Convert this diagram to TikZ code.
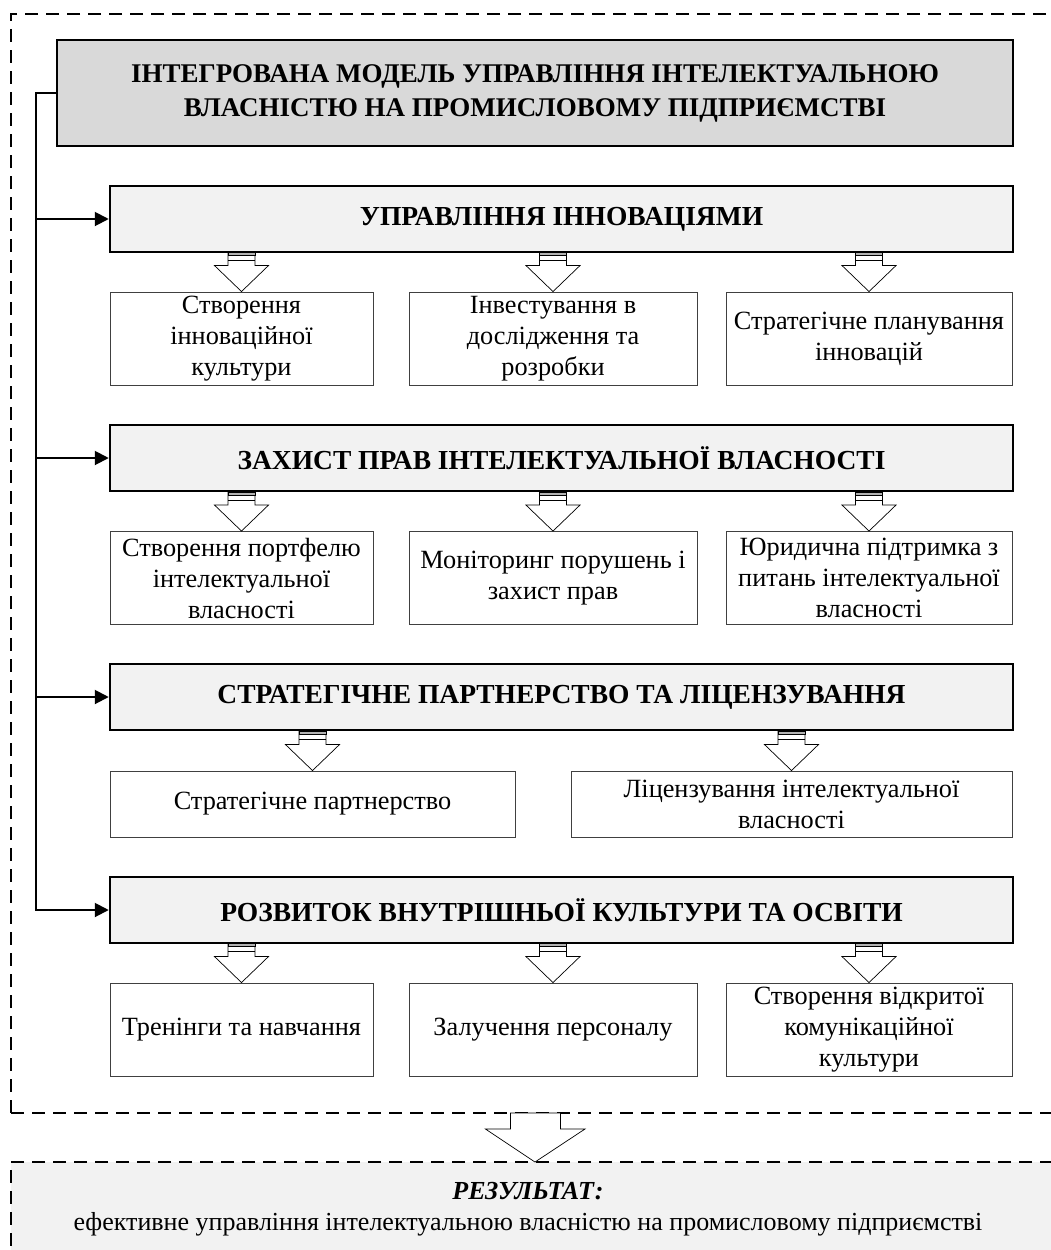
\documentclass[tikz,border=0pt]{standalone}
\usepackage{fontspec}
\setmainfont{Liberation Serif}
\usetikzlibrary{arrows.meta}

\definecolor{titlegray}{HTML}{D9D9D9}
\definecolor{headgray}{HTML}{F2F2F2}

% hollow arrow, tip at the north side of #1
\newcommand{\SmallArrow}[1]{%
  \begin{scope}[shift={(#1.north)}]
    \draw[line width=0.7pt, fill=white] (0,0) -- (-27,-26) -- (-13.5,-26) -- (-13.5,-39) -- (13.5,-39) -- (13.5,-26) -- (27,-26) -- cycle;
    \draw[line width=0.7pt, fill=gray!60] (-13.5,-39) rectangle (13.5,-36);
    \draw[line width=0.7pt] (-13.5,-31) -- (13.5,-31);
  \end{scope}}

\begin{document}
\begin{tikzpicture}[x=1pt, y=-1pt]
\tikzset{titlebox/.style = {draw, line width=2.5pt, fill=titlegray, minimum width=956, minimum height=106, align=center, font=\fontsize{27}{34}\selectfont\bfseries}}
\tikzset{headbox/.style = {draw, line width=2.5pt, fill=headgray, minimum width=903, minimum height=66, font=\fontsize{27.5}{32}\selectfont\bfseries}}
\tikzset{subbox/.style = {draw=black!75, line width=0.9pt, fill=white, inner sep=0pt, minimum height=93, align=center, font=\fontsize{26.3}{31}\selectfont}}
\tikzset{areabox/.style = {draw, line width=1.3pt, dash pattern=on 13pt off 8pt}}
\tikzset{busline/.style = {line width=2pt, -{Triangle[length=14pt, width=14pt]}}}
\useasboundingbox (0,0) rectangle (1050,1250);

  \node[areabox, minimum width=1060, minimum height=1099] (model area) at (541,563.5) {};
  \node[areabox, fill=headgray, minimum width=1060, minimum height=98] (result) at (541,1211) {};
  \node[align=center, font=\fontsize{26}{31}\selectfont] (resulttext) at (528,1209)
    {\textbf{\textit{РЕЗУЛЬТАТ:}}\\ефективне управління інтелектуальною власністю на промисловому підприємстві};

  \node[titlebox] (model) at (535,93) {ІНТЕГРОВАНА МОДЕЛЬ УПРАВЛІННЯ ІНТЕЛЕКТУАЛЬНОЮ\\ВЛАСНІСТЮ НА ПРОМИСЛОВОМУ ПІДПРИЄМСТВІ};

  \node[headbox] (innov) at (561.5,219) {УПРАВЛІННЯ ІННОВАЦІЯМИ};
  \node[subbox, minimum width=263] (innovA) at (241.5,338.5) {Створення\\інноваційної\\культури};
  \node[subbox, minimum width=288] (innovB) at (553,338.5) {Інвестування в\\дослідження та\\розробки};
  \node[subbox, minimum width=286] (innovC) at (869,338.5) {Стратегічне планування\\інновацій};

  \node[headbox] (protect) at (561.5,458) {ЗАХИСТ ПРАВ ІНТЕЛЕКТУАЛЬНОЇ ВЛАСНОСТІ};
  \node[subbox, minimum width=263] (protectA) at (241.5,578) {Створення портфелю\\інтелектуальної\\власності};
  \node[subbox, minimum width=288] (protectB) at (553,578) {Моніторинг порушень і\\захист прав};
  \node[subbox, minimum width=286] (protectC) at (869,578) {Юридична підтримка з\\питань інтелектуальної\\власності};

  \node[headbox] (partner) at (561.5,697) {СТРАТЕГІЧНЕ ПАРТНЕРСТВО ТА ЛІЦЕНЗУВАННЯ};
  \node[subbox, minimum width=405, minimum height=66] (partnerA) at (312.5,804) {Стратегічне партнерство};
  \node[subbox, minimum width=441, minimum height=66] (partnerB) at (791.5,804) {Ліцензування інтелектуальної\\власності};

  \node[headbox] (culture) at (561.5,910) {РОЗВИТОК ВНУТРІШНЬОЇ КУЛЬТУРИ ТА ОСВІТИ};
  \node[subbox, minimum width=263] (cultureA) at (241.5,1029.5) {Тренінги та навчання};
  \node[subbox, minimum width=288] (cultureB) at (553,1029.5) {Залучення персоналу};
  \node[subbox, minimum width=286] (cultureC) at (869,1029.5) {Створення відкритої\\комунікаційної\\культури};

  \draw[busline] (model.west) -- ++(-20,0) coordinate (bus) |- (culture.west);
  \foreach \h in {innov, protect, partner}
    \draw[busline] (bus |- \h.west) -- (\h.west);

  \foreach \b in {innovA, innovB, innovC, protectA, protectB, protectC, partnerA, partnerB, cultureA, cultureB, cultureC}
    \SmallArrow{\b};

  % big arrow to the result
  \coordinate (restip) at (535,1162);
  \draw[line width=0.7pt, fill=white] (restip) -- ++(-49.5,-33) -- ++(25,0) -- ++(0,-16) -- ++(50,0) -- ++(0,16) -- ++(24.5,0) -- cycle;
\end{tikzpicture}
\end{document}
